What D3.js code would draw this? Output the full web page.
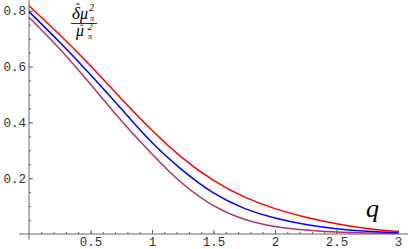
<!DOCTYPE html>
<html>
<head>
<meta charset="utf-8">
<script src="https://cdn.jsdelivr.net/npm/d3@7"></script>
<style>
body { margin: 0; background: #fff; }
.tick text { font-family: "Liberation Mono", monospace; font-size: 12.5px; fill: #333; }
</style>
</head>
<body>
<div id="chart"></div>
<script>
// data
var qValues = [0, 0.25, 0.5, 0.75, 1, 1.25, 1.5, 1.75, 2, 2.25, 2.5, 2.75, 3];
var redValues = [0.818, 0.714, 0.603, 0.485, 0.372, 0.272, 0.192, 0.133, 0.091, 0.060, 0.037, 0.020, 0.009];
var blueValues = [0.797, 0.687, 0.571, 0.449, 0.328, 0.228, 0.147, 0.092, 0.057, 0.034, 0.019, 0.010, 0.005];
var purpleValues = [0.777, 0.663, 0.537, 0.407, 0.287, 0.180, 0.102, 0.053, 0.027, 0.014, 0.007, 0.004, 0.002];
var xTicks = [0.5, 1, 1.5, 2, 2.5, 3];
var xTickLabels = ["0.5", "1", "1.5", "2", "2.5", "3"];
var yTicks = [0.2, 0.4, 0.6, 0.8];
var yTickLabels = ["0.2", "0.4", "0.6", "0.8"];

var width = 409, height = 249;

var svg = d3.select("#chart")
            .append("svg")
            .attr("width", width)
            .attr("height", height);

var x = d3.scaleLinear().domain([0, 3]).range([29, 398]);
var y = d3.scaleLinear().domain([0, 0.8]).range([234, 10.8]);

// axis lines (Mathematica draws them a bit past the origin)
svg.append("line")
   .attr("x1", x(-0.08)).attr("x2", 408)
   .attr("y1", y(0)).attr("y2", y(0))
   .attr("stroke", "#666").attr("stroke-width", 1);
svg.append("line")
   .attr("x1", x(0)).attr("x2", x(0))
   .attr("y1", 0).attr("y2", y(-0.02))
   .attr("stroke", "#666").attr("stroke-width", 1);

// X axis ticks, pointing into the plot
var xMinor = d3.range(1, 31).map(function(i) { return i / 10; });
svg.append("g")
   .attr("transform", "translate(0," + y(0) + ")")
   .call(d3.axisBottom(x).tickValues(xMinor).tickSize(-2).tickFormat(""))
   .call(function(g) { g.select(".domain").remove(); g.selectAll("line").attr("stroke", "#666"); });
svg.append("g")
   .attr("transform", "translate(0," + y(0) + ")")
   .call(d3.axisBottom(x).tickValues(xTicks).tickSize(-4).tickPadding(3)
          .tickFormat(function(d, i) { return xTickLabels[i]; }))
   .call(function(g) { g.select(".domain").remove(); g.selectAll("line").attr("stroke", "#666"); });

// Y axis ticks
var yMinor = d3.range(1, 18).map(function(i) { return i * 0.05; });
svg.append("g")
   .attr("transform", "translate(" + x(0) + ",0)")
   .call(d3.axisLeft(y).tickValues(yMinor).tickSize(-2).tickFormat(""))
   .call(function(g) { g.select(".domain").remove(); g.selectAll("line").attr("stroke", "#666"); });
svg.append("g")
   .attr("transform", "translate(" + x(0) + ",0)")
   .call(d3.axisLeft(y).tickValues(yTicks).tickSize(-4).tickPadding(3)
          .tickFormat(function(d, i) { return yTickLabels[i]; }))
   .call(function(g) { g.select(".domain").remove(); g.selectAll("line").attr("stroke", "#666"); });

// curves
var series = [
  {values: purpleValues, color: "#b33366"},
  {values: blueValues, color: "#0000ff"},
  {values: redValues, color: "#ff0000"}
];
var line = d3.line()
             .x(function(d) { return x(d[0]); })
             .y(function(d) { return y(d[1]); })
             .curve(d3.curveNatural);
series.forEach(function(s) {
  svg.append("path")
     .datum(qValues.map(function(q, i) { return [q, s.values[i]]; }))
     .attr("fill", "none")
     .attr("stroke", s.color)
     .attr("stroke-width", 1.5)
     .attr("d", line);
});

// labels
var serif = "'Liberation Serif', 'DejaVu Serif', serif";
function label(txt, px, py, size) {
  svg.append("text")
     .text(txt)
     .attr("x", px).attr("y", py)
     .attr("font-family", serif)
     .attr("font-style", "italic")
     .attr("font-size", size)
     .attr("fill", "#000");
}
// numerator: delta-tilde mu^2_pi
label("\u02DC", 75, 12, 12);
label("\u03B4", 72, 19, 17);
label("\u03BC", 80, 19, 16);
label("2", 89, 11, 10);
label("\u03C0", 90, 21, 8);
svg.append("line")
   .attr("x1", 71).attr("x2", 97)
   .attr("y1", 23.5).attr("y2", 23.5)
   .attr("stroke", "#000").attr("stroke-width", 0.8);
// denominator: mu-hat^2_pi
label("\u02C6", 79, 32, 11);
label("\u03BC", 76, 35.5, 16);
label("2", 87.5, 30, 10);
label("\u03C0", 88, 38.5, 8);

label("q", 366, 217, 26);
</script>
</body>
</html>
